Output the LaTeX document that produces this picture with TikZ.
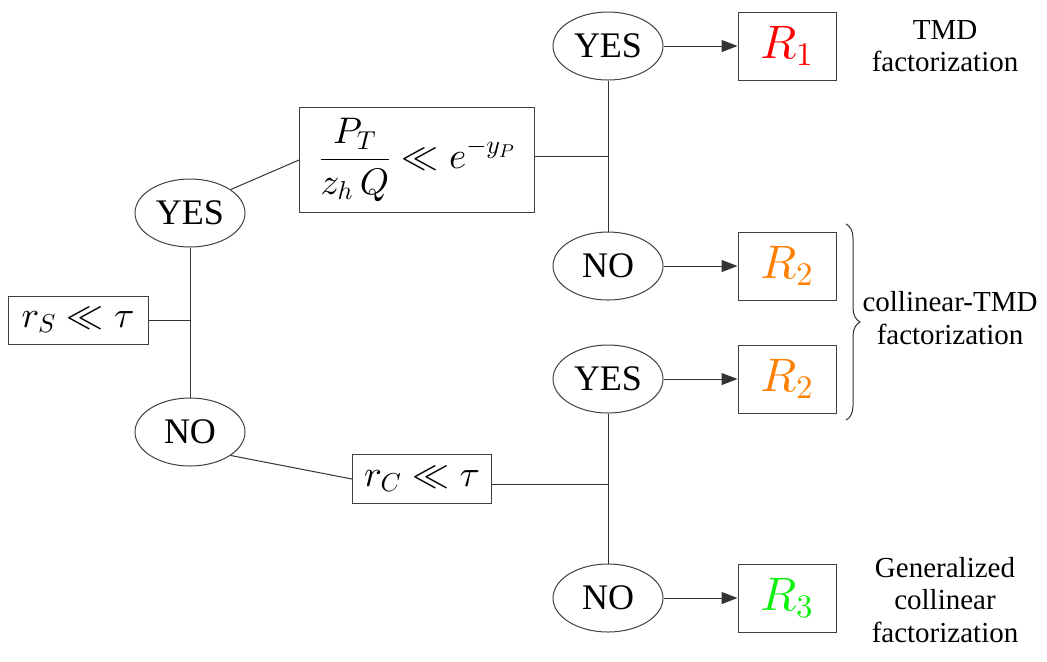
\documentclass[tikz,border=0pt]{standalone}
\usepackage{fontspec}
\setmainfont{Liberation Serif}
\DeclareFontShape{OML}{cmm}{m}{it}{<-6>cmmi5<6-7>cmmi6<7-8>cmmi7<8-9>cmmi8<9-10>cmmi9<10->cmmi10}{}
\DeclareFontShape{OMS}{cmsy}{m}{n}{<-6>cmsy5<6-7>cmsy6<7-8>cmsy7<8-9>cmsy8<9-10>cmsy9<10->cmsy10}{}
\DeclareFontShape{OT1}{cmr}{m}{n}{<-6>cmr5<6-7>cmr6<7-8>cmr7<8-9>cmr8<9-10>cmr9<10->cmr10}{}
\usetikzlibrary{arrows.meta,shapes.geometric,decorations.pathreplacing}
\definecolor{RoneClr}{rgb}{1,0,0}
\definecolor{RtwoClr}{rgb}{1,0.5,0}
\definecolor{RthreeClr}{rgb}{0.05,0.95,0.05}

\begin{document}
\begin{tikzpicture}[x=0.5pt,y=-0.5pt,
  answer/.style={ellipse,draw=black!75,line width=0.5pt,minimum width=55pt,minimum height=34pt,inner sep=0pt,font=\fontsize{18}{20}\selectfont},
  cond/.style={rectangle,draw=black!75,line width=0.5pt,inner sep=0pt,font=\fontsize{18.5}{22}\selectfont},
  region/.style={rectangle,draw=black!75,line width=0.5pt,minimum width=49pt,minimum height=34pt,inner sep=0pt,font=\fontsize{23.5}{26}\selectfont},
  note/.style={align=center,font=\fontsize{14.5}{16.3}\selectfont},
  link/.style={line width=0.5pt,draw=black!80},
  flow/.style={link,-{Triangle[length=8pt,width=6pt]}}]
\useasboundingbox (0,0) rectangle (1047,661);

% conditions
\node[cond,minimum width=70pt,minimum height=24pt] (rS) at (78,320) {$r_S \ll \tau$};
\node[cond,minimum width=117.5pt,minimum height=52.5pt] (ptQ) at (417,160) {$\displaystyle\frac{P_T}{z_h\,Q} \ll e^{-y_P}$};
\node[cond,minimum width=69.5pt,minimum height=24.5pt] (rC) at (422,479) {$r_C \ll \tau$};

% answers
\node[answer] (yesA) at (190,213) {YES};
\node[answer] (noA) at (190,432) {NO};
\node[answer] (yesB) at (608,46) {YES};
\node[answer] (noB) at (608,266) {NO};
\node[answer] (yesC) at (608,379) {YES};
\node[answer] (noC) at (608,598) {NO};

% regions
\node[region,text=RoneClr] (Rone) at (787,46) {$R_1$};
\node[region,text=RtwoClr] (RtwoA) at (787,266) {$R_2$};
\node[region,text=RtwoClr] (RtwoB) at (787,379) {$R_2$};
\node[region,text=RthreeClr] (Rthree) at (787,598) {$R_3$};

\node[note] (tmd) at (945,46) {TMD\\factorization};
\node[note] (coll) at (950,318) {collinear-TMD\\factorization};
\node[note] (gen) at (945,600) {Generalized\\collinear\\factorization};

% tree
\draw[link] (yesA.south) -- (noA.north);
\draw[link] (rS.east) -- (rS.east -| yesA.south);
\draw[link] (yesA.30) -- (ptQ.west);
\draw[link] (noA.-30) -- (rC.west);

\draw[link] (yesB.south) -- (noB.north);
\draw[link] ([yshift=2pt]ptQ.east) -- ([yshift=2pt]ptQ.east -| yesB.south);
\draw[link] (yesC.south) -- (noC.north);
\draw[link] ([yshift=-2.5pt]rC.east) -- ([yshift=-2.5pt]rC.east -| yesC.south);

\draw[flow] (yesB.east) -- (Rone.west);
\draw[flow] (noB.east) -- (RtwoA.west);
\draw[flow] (yesC.east) -- (RtwoB.west);
\draw[flow] (noC.east) -- (Rthree.west);

\draw[link,decorate,decoration={brace,amplitude=7pt}] (846,224) -- (846,420);

\end{tikzpicture}
\end{document}
